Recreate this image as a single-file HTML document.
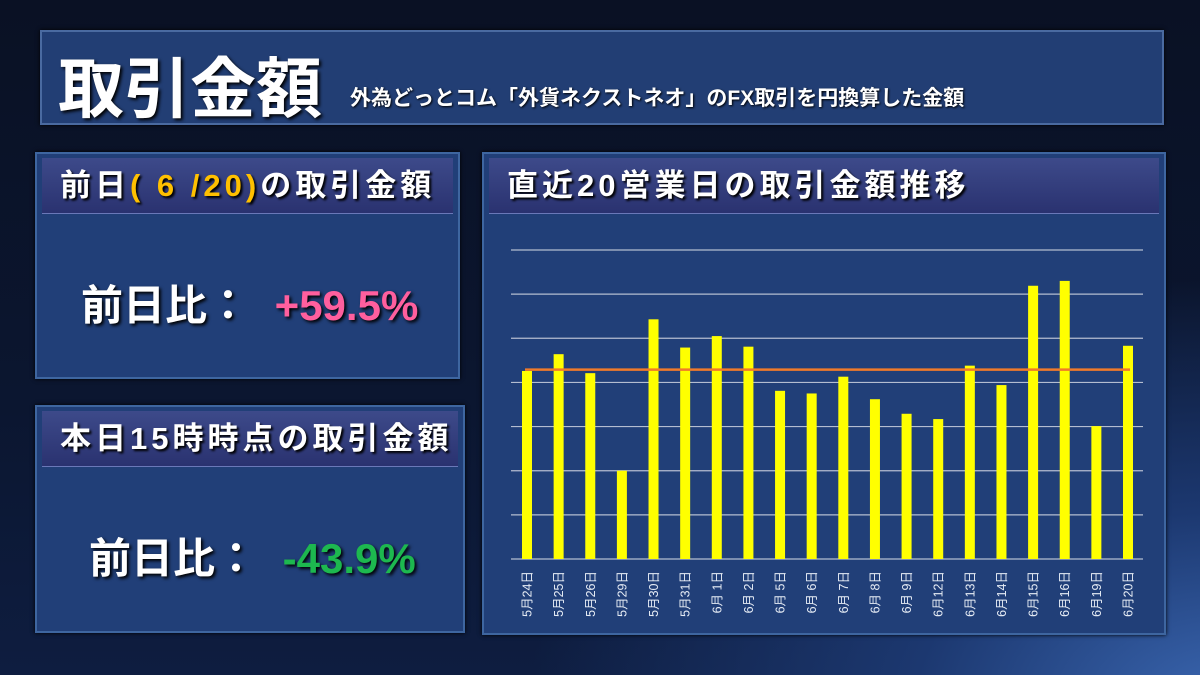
<!DOCTYPE html>
<html><head><meta charset="utf-8">
<style>
*{margin:0;padding:0;box-sizing:border-box}
body{width:1200px;height:675px;overflow:hidden;font-family:"Liberation Sans","Noto Sans CJK JP",sans-serif;font-weight:bold;color:#fff;
background:radial-gradient(ellipse 700px 420px at 1230px 700px,#3a66b0 0%,#1c3870 45%,rgba(10,20,45,0) 100%),linear-gradient(180deg,#0a1124 0%,#0b1630 60%,#0e1d40 100%);position:relative}
.box{position:absolute;background:#213f78;border:2px solid #3e66a0;box-shadow:0 0 4px #000}
.hdr{position:absolute;left:5px;right:5px;top:4px;height:56px;background:linear-gradient(180deg,#3d4a8a,#2a3270);border-bottom:1px solid #6a78b8;font-size:31px;line-height:56px;padding-left:18px;letter-spacing:4px;text-shadow:2px 2px 2px #000;white-space:nowrap}
.big{position:absolute;font-size:42px;text-shadow:2px 2px 3px #000;white-space:nowrap}
</style></head><body>
<div class="box" style="left:40px;top:30px;width:1124px;height:95px;background:#223e74;border-color:#4a6aa0">
<span style="position:absolute;left:16px;top:4px;font-size:66px;text-shadow:2px 2px 3px #000">取引金額</span>
<span style="position:absolute;left:308px;top:50px;font-size:21px;text-shadow:1px 1px 2px #000;white-space:nowrap">外為どっとコム「外貨ネクストネオ」のFX取引を円換算した金額</span>
</div>
<div class="box" style="left:35px;top:152px;width:425px;height:227px">
<div class="hdr">前日<span style="color:#ffc000">( 6 /20)</span>の取引金額</div>
<div class="big" style="left:44px;top:118px">前日比： <span style="color:#ff5f9e;margin-left:14px">+59.5%</span></div>
</div>
<div class="box" style="left:35px;top:405px;width:430px;height:228px">
<div class="hdr">本日15時時点の取引金額</div>
<div class="big" style="left:52px;top:118px">前日比： <span style="color:#1db84f;margin-left:14px">-43.9%</span></div>
</div>
<div class="box" style="left:482px;top:152px;width:684px;height:483px">
<div class="hdr">直近20営業日の取引金額推移</div>
</div>
<svg id="chart" width="1200" height="675" style="position:absolute;left:0;top:0"></svg>
<script>
const categories=["5月24日","5月25日","5月26日","5月29日","5月30日","5月31日","6月 1日","6月 2日","6月 5日","6月 6日","6月 7日","6月 8日","6月 9日","6月12日","6月13日","6月14日","6月15日","6月16日","6月19日","6月20日"];
const values=[4.26,4.64,4.21,2.0,5.43,4.79,5.05,4.81,3.81,3.75,4.13,3.62,3.29,3.17,4.38,3.94,6.19,6.30,3.01,4.83];
const average=[4.29];
const yTicks=[0,1,2,3,4,5,6,7];
const NS="http://www.w3.org/2000/svg";
const svg=document.getElementById('chart');
const x0=511,x1=1143,yb=559,yt=250,ymax=7;
const step=(1128-527)/(categories.length-1);
function X(i){return 527+i*step;}
function Y(v){return yb-(v/ymax)*(yb-yt);}
function mk(t,a){const e=document.createElementNS(NS,t);for(const k in a)e.setAttribute(k,a[k]);svg.appendChild(e);return e;}
yTicks.forEach(v=>{
const l=mk('line',{x1:x0,x2:x1,y1:Y(v),y2:Y(v),stroke:'#b4bdd0','stroke-width':1.2});


});
values.forEach((v,i)=>{
const r=mk('rect',{x:X(i)-5,y:Y(v),width:10,height:yb-Y(v),fill:'#ffff00'});


const t=mk('text',{x:0,y:0,fill:'#e6ecf5','font-size':12.5,'font-weight':'normal','text-anchor':'end',transform:`translate(${X(i)+4.5},${yb+12}) rotate(-90)`});
t.textContent=categories[i];


});
const al=mk('line',{x1:X(0)-2,x2:X(categories.length-1)+2,y1:Y(average[0]),y2:Y(average[0]),stroke:'#f07a2a','stroke-width':2.5});


</script>
</body></html>
